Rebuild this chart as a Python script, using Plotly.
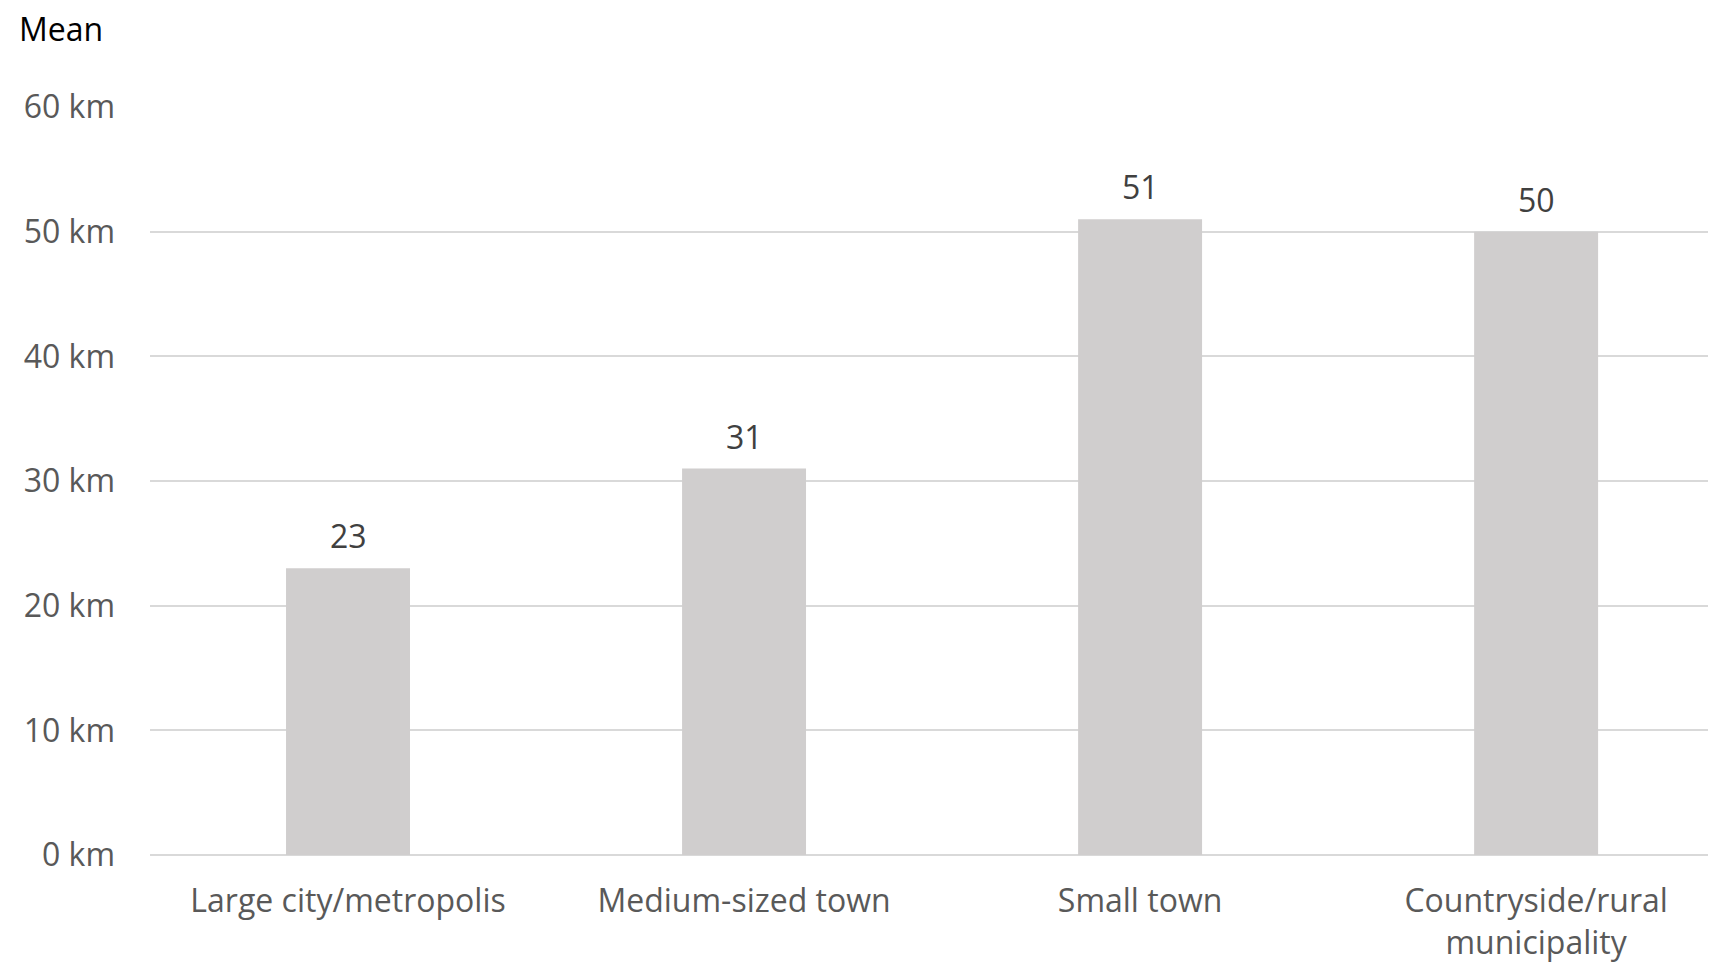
import plotly.graph_objects as go

categories = ["Large city/metropolis", "Medium-sized town", "Small town", "Countryside/rural<br>municipality"]
values = [23, 31, 51, 50]
tick_vals = [0, 10, 20, 30, 40, 50, 60]
tick_text = [f"{v} km" for v in tick_vals]

FONT = "Open Sans"
FS = 32

fig = go.Figure()
fig.add_trace(go.Bar(
    x=categories, y=values,
    marker=dict(color="#D0CECE", line=dict(width=0)),
    hoverinfo="skip",
))

for c, v in zip(categories, values):
    fig.add_annotation(x=c, y=v, text=str(v), showarrow=False,
                       yanchor="bottom", yshift=9,
                       font=dict(family=FONT, size=FS, color="#404040"))

fig.add_annotation(x=-0.0856, y=1.137, xref="paper", yref="paper",
                   xanchor="left", yanchor="top", text="Mean", showarrow=False,
                   font=dict(family=FONT, size=FS, color="#000000"))

fig.update_layout(
    width=1700, height=959,
    margin=dict(l=142, r=0, t=99, b=112, pad=0, autoexpand=False),
    paper_bgcolor="white", plot_bgcolor="white",
    bargap=0.687,
    showlegend=False,
    font=dict(family=FONT, size=FS, color="#595959"),
)
fig.update_xaxes(range=[-0.5, 3.434], showgrid=False, showline=False,
                 automargin=False,
                 ticks="", ticklabelstandoff=24,
                 tickfont=dict(size=FS, color="#595959"))
fig.update_yaxes(range=[0, 60], tickvals=tick_vals, ticktext=tick_text,
                 automargin=False,
                 showgrid=True, gridcolor="#D9D9D9", gridwidth=2,
                 zeroline=True, zerolinecolor="#D9D9D9", zerolinewidth=2,
                 showline=False, ticks="", ticklabelstandoff=34,
                 tickfont=dict(size=FS, color="#595959"))

fig.write_html("out.html")
